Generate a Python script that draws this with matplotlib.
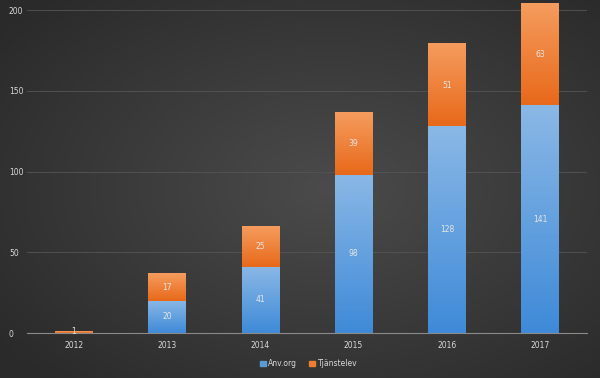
import numpy as np
import matplotlib
matplotlib.use("Agg")
import matplotlib.pyplot as plt
from matplotlib.colors import LinearSegmentedColormap

years = ["2012", "2013", "2014", "2015", "2016", "2017"]
anv_org = [0, 20, 41, 98, 128, 141]
tjanstelev = [1, 17, 25, 39, 51, 63]
yticks = [0, 50, 100, 150, 200]

fig = plt.figure(figsize=(6, 3.78), dpi=100)

# radial gradient background, slightly lighter towards the middle
bg = fig.add_axes([0, 0, 1, 1])
xx, yy = np.meshgrid(np.linspace(-1.1, 0.9, 300), np.linspace(-1, 1, 190))
r = np.sqrt(xx**2 + yy**2)
bg.imshow(r, cmap=LinearSegmentedColormap.from_list("bg", ["#4b4b4b", "#2a2a2a"]),
          extent=[0, 1, 0, 1], aspect="auto", vmin=0, vmax=1.4)
bg.axis("off")

ax = fig.add_axes([0.045, 0.119, 0.933, 0.854])
ax.patch.set_alpha(0)

blue_cm = LinearSegmentedColormap.from_list("b", ["#3f8ad8", "#8ab8e6"])
orange_cm = LinearSegmentedColormap.from_list("o", ["#e8691a", "#f59c5e"])
grad = np.linspace(0, 1, 100).reshape(-1, 1)
w = 0.4

def grad_bar(x, bottom, height, cm):
    if height <= 0:
        return
    ax.imshow(grad, cmap=cm, extent=[x - w / 2, x + w / 2, bottom, bottom + height],
              aspect="auto", origin="lower", zorder=2, clip_on=False)

x = np.arange(len(years))
for i in x:
    grad_bar(i, 0, anv_org[i], blue_cm)
    grad_bar(i, anv_org[i], tjanstelev[i], orange_cm)
    if anv_org[i] > 0:
        ax.text(i, anv_org[i] / 2, str(anv_org[i]), ha="center", va="center",
                color="#e6e6e6", fontsize=5.5, zorder=3)
    ax.text(i, anv_org[i] + tjanstelev[i] / 2 if tjanstelev[i] > 2 else 0.8,
            str(tjanstelev[i]), ha="center", va="center",
            color="#e6e6e6", fontsize=5.5, zorder=3)

ax.set_xlim(-0.5, 5.5)
ax.set_ylim(0, 200)
ax.set_yticks(yticks)
ax.set_xticks(x)
ax.set_xticklabels(years)
ax.grid(axis="y", color="#555555", linewidth=0.6, zorder=0)
ax.set_axisbelow(True)
for s in ["top", "right", "left"]:
    ax.spines[s].set_visible(False)
ax.spines["bottom"].set_color("#8a8a8a")
ax.tick_params(length=0, labelsize=5.5, colors="#d9d9d9", pad=6)
ax.tick_params(axis="y", pad=13)
for lbl in ax.get_yticklabels():
    lbl.set_horizontalalignment("left")

h1 = plt.Rectangle((0, 0), 1, 1, color="#5b9bd5")
h2 = plt.Rectangle((0, 0), 1, 1, color="#ed7d31")
leg = fig.legend([h1, h2], ["Anv.org", "Tjänstelev"], loc="center", bbox_to_anchor=(0.514, 0.038),
                 ncol=2, frameon=False, fontsize=5.5, handlelength=0.8, handleheight=0.8,
                 handletextpad=0.3, columnspacing=1.6)
for t in leg.get_texts():
    t.set_color("#d9d9d9")

fig.savefig("out.png", dpi=100)
